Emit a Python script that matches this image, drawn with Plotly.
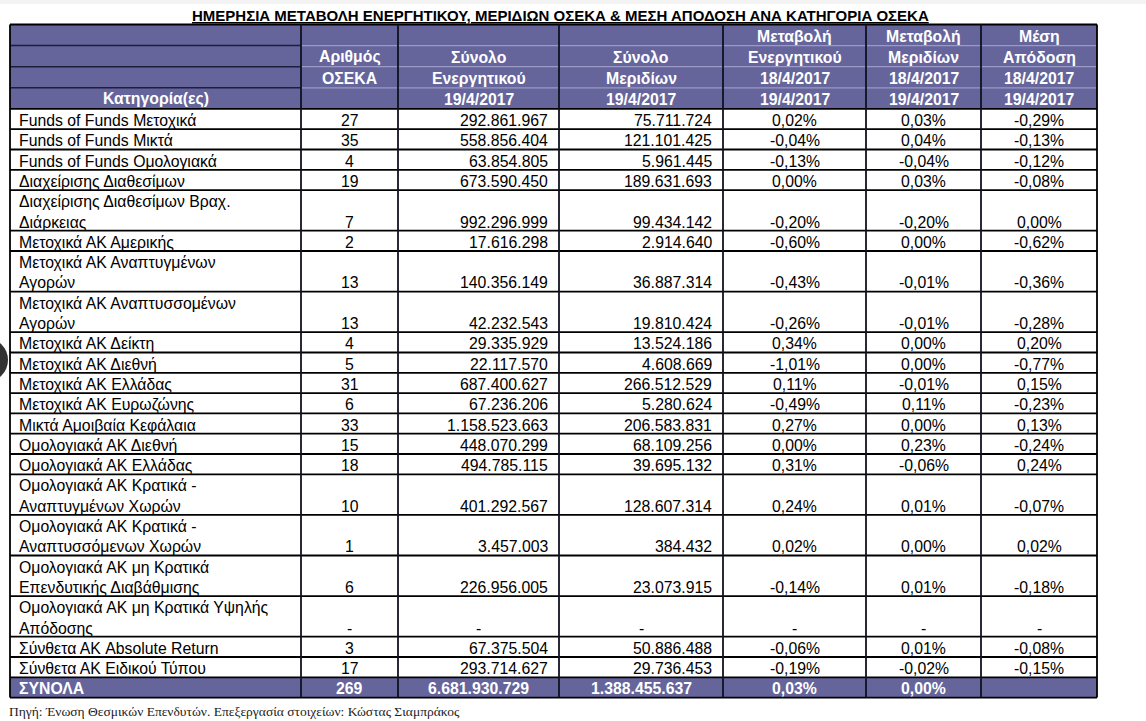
import plotly.graph_objects as go

# ---------------- data ----------------
title_text = "ΗΜΕΡΗΣΙΑ ΜΕΤΑΒΟΛΗ ΕΝΕΡΓΗΤΙΚΟΥ, ΜΕΡΙΔΙΩΝ ΟΣΕΚΑ & ΜΕΣΗ ΑΠΟΔΟΣΗ ΑΝΑ ΚΑΤΗΓΟΡΙΑ ΟΣΕΚΑ"
source_text = "Πηγή: Ένωση Θεσμικών Επενδυτών. Επεξεργασία στοιχείων: Κώστας Σιαμπράκος"

header_col0 = ["", "", "", "Κατηγορία(ες)"]
header_col1 = ["", "Αριθμός", "ΟΣΕΚΑ", ""]
header_col2 = ["", "Σύνολο", "Ενεργητικού", "19/4/2017"]
header_col3 = ["", "Σύνολο", "Μεριδίων", "19/4/2017"]
header_col4 = ["Μεταβολή", "Ενεργητικού", "18/4/2017", "19/4/2017"]
header_col5 = ["Μεταβολή", "Μεριδίων", "18/4/2017", "19/4/2017"]
header_col6 = ["Μέση", "Απόδοση", "18/4/2017", "19/4/2017"]

categories = [
    "Funds of Funds Μετοχικά",
    "Funds of Funds Μικτά",
    "Funds of Funds Ομολογιακά",
    "Διαχείρισης Διαθεσίμων",
    "Διαχείρισης Διαθεσίμων Βραχ.\nΔιάρκειας",
    "Μετοχικά ΑΚ Αμερικής",
    "Μετοχικά ΑΚ Αναπτυγμένων\nΑγορών",
    "Μετοχικά ΑΚ Αναπτυσσομένων\nΑγορών",
    "Μετοχικά ΑΚ Δείκτη",
    "Μετοχικά ΑΚ Διεθνή",
    "Μετοχικά ΑΚ Ελλάδας",
    "Μετοχικά ΑΚ Ευρωζώνης",
    "Μικτά Αμοιβαία Κεφάλαια",
    "Ομολογιακά ΑΚ Διεθνή",
    "Ομολογιακά ΑΚ Ελλάδας",
    "Ομολογιακά ΑΚ Κρατικά -\nΑναπτυγμένων Χωρών",
    "Ομολογιακά ΑΚ Κρατικά -\nΑναπτυσσόμενων Χωρών",
    "Ομολογιακά ΑΚ μη Κρατικά\nΕπενδυτικής Διαβάθμισης",
    "Ομολογιακά ΑΚ μη Κρατικά Υψηλής\nΑπόδοσης",
    "Σύνθετα ΑΚ Absolute Return",
    "Σύνθετα ΑΚ Ειδικού Τύπου",
]
num_funds = [27, 35, 4, 19, 7, 2, 13, 13, 4, 5, 31, 6, 33, 15, 18, 10, 1, 6, None, 3, 17]
total_assets = [292861967, 558856404, 63854805, 673590450, 992296999, 17616298, 140356149,
                42232543, 29335929, 22117570, 687400627, 67236206, 1158523663, 448070299,
                494785115, 401292567, 3457003, 226956005, None, 67375504, 293714627]
total_units = [75711724, 121101425, 5961445, 189631693, 99434142, 2914640, 36887314,
               19810424, 13524186, 4608669, 266512529, 5280624, 206583831, 68109256,
               39695132, 128607314, 384432, 23073915, None, 50886488, 29736453]
assets_change = [0.02, -0.04, -0.13, 0.00, -0.20, -0.60, -0.43, -0.26, 0.34, -1.01, 0.11,
                 -0.49, 0.27, 0.00, 0.31, 0.24, 0.02, -0.14, None, -0.06, -0.19]
units_change = [0.03, 0.04, -0.04, 0.03, -0.20, 0.00, -0.01, -0.01, 0.00, 0.00, -0.01,
                0.11, 0.00, 0.23, -0.06, 0.01, 0.00, 0.01, None, 0.01, -0.02]
avg_return = [-0.29, -0.13, -0.12, -0.08, 0.00, -0.62, -0.36, -0.28, 0.20, -0.77, 0.15,
              -0.23, 0.13, -0.24, 0.24, -0.07, 0.02, -0.18, None, -0.08, -0.15]

total_label = "ΣΥΝΟΛΑ"
total_num_funds = 269
total_total_assets = 6681930729
total_total_units = 1388455637
total_assets_change = 0.03
total_units_change = 0.00

# ---------------- layout constants ----------------
W, H = 1146, 721
X = [10, 301, 398, 559, 723, 866, 981, 1097]
HEADER_TOP = 24.5
HEADER_ROW = 21.1
U = 20.3
PURPLE = "#65659c"
FONT = "Liberation Sans, Arial, sans-serif"
FS = 15.8


def fmt_int(v):
    return "-" if v is None else f"{v:,}".replace(",", ".")


def fmt_pct(v):
    return "-" if v is None else f"{v:.2f}%".replace(".", ",")


shapes = []
annotations = []


def line(x0, y0, x1, y1, color="black", width=1.8):
    shapes.append(dict(type="line", xref="x", yref="y", x0=x0, y0=y0, x1=x1, y1=y1,
                       line=dict(color=color, width=width), layer="above"))


def text(x, y, s, anchor="center", color="black", bold=False, size=FS, family=FONT):
    if bold:
        s = f"<b>{s}</b>"
    annotations.append(dict(x=x, y=y, xref="x", yref="y", text=s, showarrow=False,
                            xanchor=anchor, yanchor="middle",
                            font=dict(family=family, size=size, color=color)))


def col_x(c, align):
    if align == "left":
        return X[c] + 7
    if align == "right":
        return X[c + 1] - 9
    return (X[c] + X[c + 1]) / 2


aligns = ["left", "center", "right", "right", "center", "center", "center"]

# faint top strip of the screenshot
shapes.append(dict(type="rect", xref="x", yref="y", x0=0, x1=W, y0=0, y1=4,
                   fillcolor="#f3f3f3", line=dict(width=0), layer="below"))

# title
text((X[0] + X[-1]) / 2 + 7, 15, f"<u>{title_text}</u>", bold=True, size=15)

# header
header_cols = [header_col0, header_col1, header_col2, header_col3, header_col4, header_col5, header_col6]
header_bottom = HEADER_TOP + 4 * HEADER_ROW
shapes.append(dict(type="rect", xref="x", yref="y", x0=X[0], x1=X[-1], y0=HEADER_TOP,
                   y1=header_bottom, fillcolor=PURPLE, line=dict(width=0), layer="below"))
for i in range(1, 4):
    yy = HEADER_TOP + i * HEADER_ROW
    line(X[0], yy, X[1], yy, color="#1e1e3a", width=1.5)
    line(X[1], yy, X[-1], yy, color="#9a9ac4", width=1.2)
for c, lines_ in enumerate(header_cols):
    for i, s in enumerate(lines_):
        if s:
            text((X[c] + X[c + 1]) / 2, HEADER_TOP + (i + 0.5) * HEADER_ROW + 1, s,
                 color="white", bold=True)

# data rows
y = header_bottom
row_edges = [y]
for r, cat in enumerate(categories):
    parts = cat.split("\n")
    n = len(parts)
    for k, p in enumerate(parts):
        text(col_x(0, "left"), y + (k + 0.5) * U + 1.5, p, anchor="left")
    yl = y + (n - 0.5) * U + 1.5
    vals = [str(num_funds[r]) if num_funds[r] is not None else "-",
            fmt_int(total_assets[r]), fmt_int(total_units[r]),
            fmt_pct(assets_change[r]), fmt_pct(units_change[r]), fmt_pct(avg_return[r])]
    for c, v in enumerate(vals, start=1):
        a = aligns[c] if v != "-" else "center"
        text(col_x(c, a), yl, v, anchor=a)
    y += n * U
    row_edges.append(y)

# totals row
tot_top = y
tot_bot = y + U
shapes.append(dict(type="rect", xref="x", yref="y", x0=X[0], x1=X[-1], y0=tot_top,
                   y1=tot_bot, fillcolor=PURPLE, line=dict(width=0), layer="below"))
yl = tot_top + 0.5 * U + 1.5
text(col_x(0, "left"), yl, total_label, anchor="left", color="white", bold=True)
tvals = [str(total_num_funds), fmt_int(total_total_assets), fmt_int(total_total_units),
         fmt_pct(total_assets_change), fmt_pct(total_units_change)]
for c, v in enumerate(tvals, start=1):
    text(col_x(c, "center"), yl, v, anchor="center", color="white", bold=True)
row_edges.append(tot_bot)

# grid lines
for yy in row_edges:
    line(X[0], yy, X[-1], yy)
line(X[0], HEADER_TOP, X[-1], HEADER_TOP)
for xx in X:
    line(xx, HEADER_TOP, xx, tot_bot, color="black" if xx in (X[0], X[-1]) else "#111122")

# source note
text(7, 711, source_text, anchor="left", color="#222222", size=13.5,
     family="Liberation Serif, Times New Roman, serif")

# screenshot artefact at left edge
shapes.append(dict(type="circle", xref="x", yref="y", x0=-36, x1=8, y0=338, y1=382,
                   fillcolor="#333333", line=dict(width=0), layer="above"))

fig = go.Figure()
fig.update_layout(
    width=W, height=H,
    margin=dict(l=0, r=0, t=0, b=0),
    paper_bgcolor="white", plot_bgcolor="white",
    xaxis=dict(range=[0, W], visible=False, fixedrange=True),
    yaxis=dict(range=[H, 0], visible=False, fixedrange=True),
    shapes=shapes, annotations=annotations, showlegend=False,
)
fig.write_html("out.html", config={"displayModeBar": False},
               post_script="document.body.style.margin='0';document.body.style.overflow='hidden';")
